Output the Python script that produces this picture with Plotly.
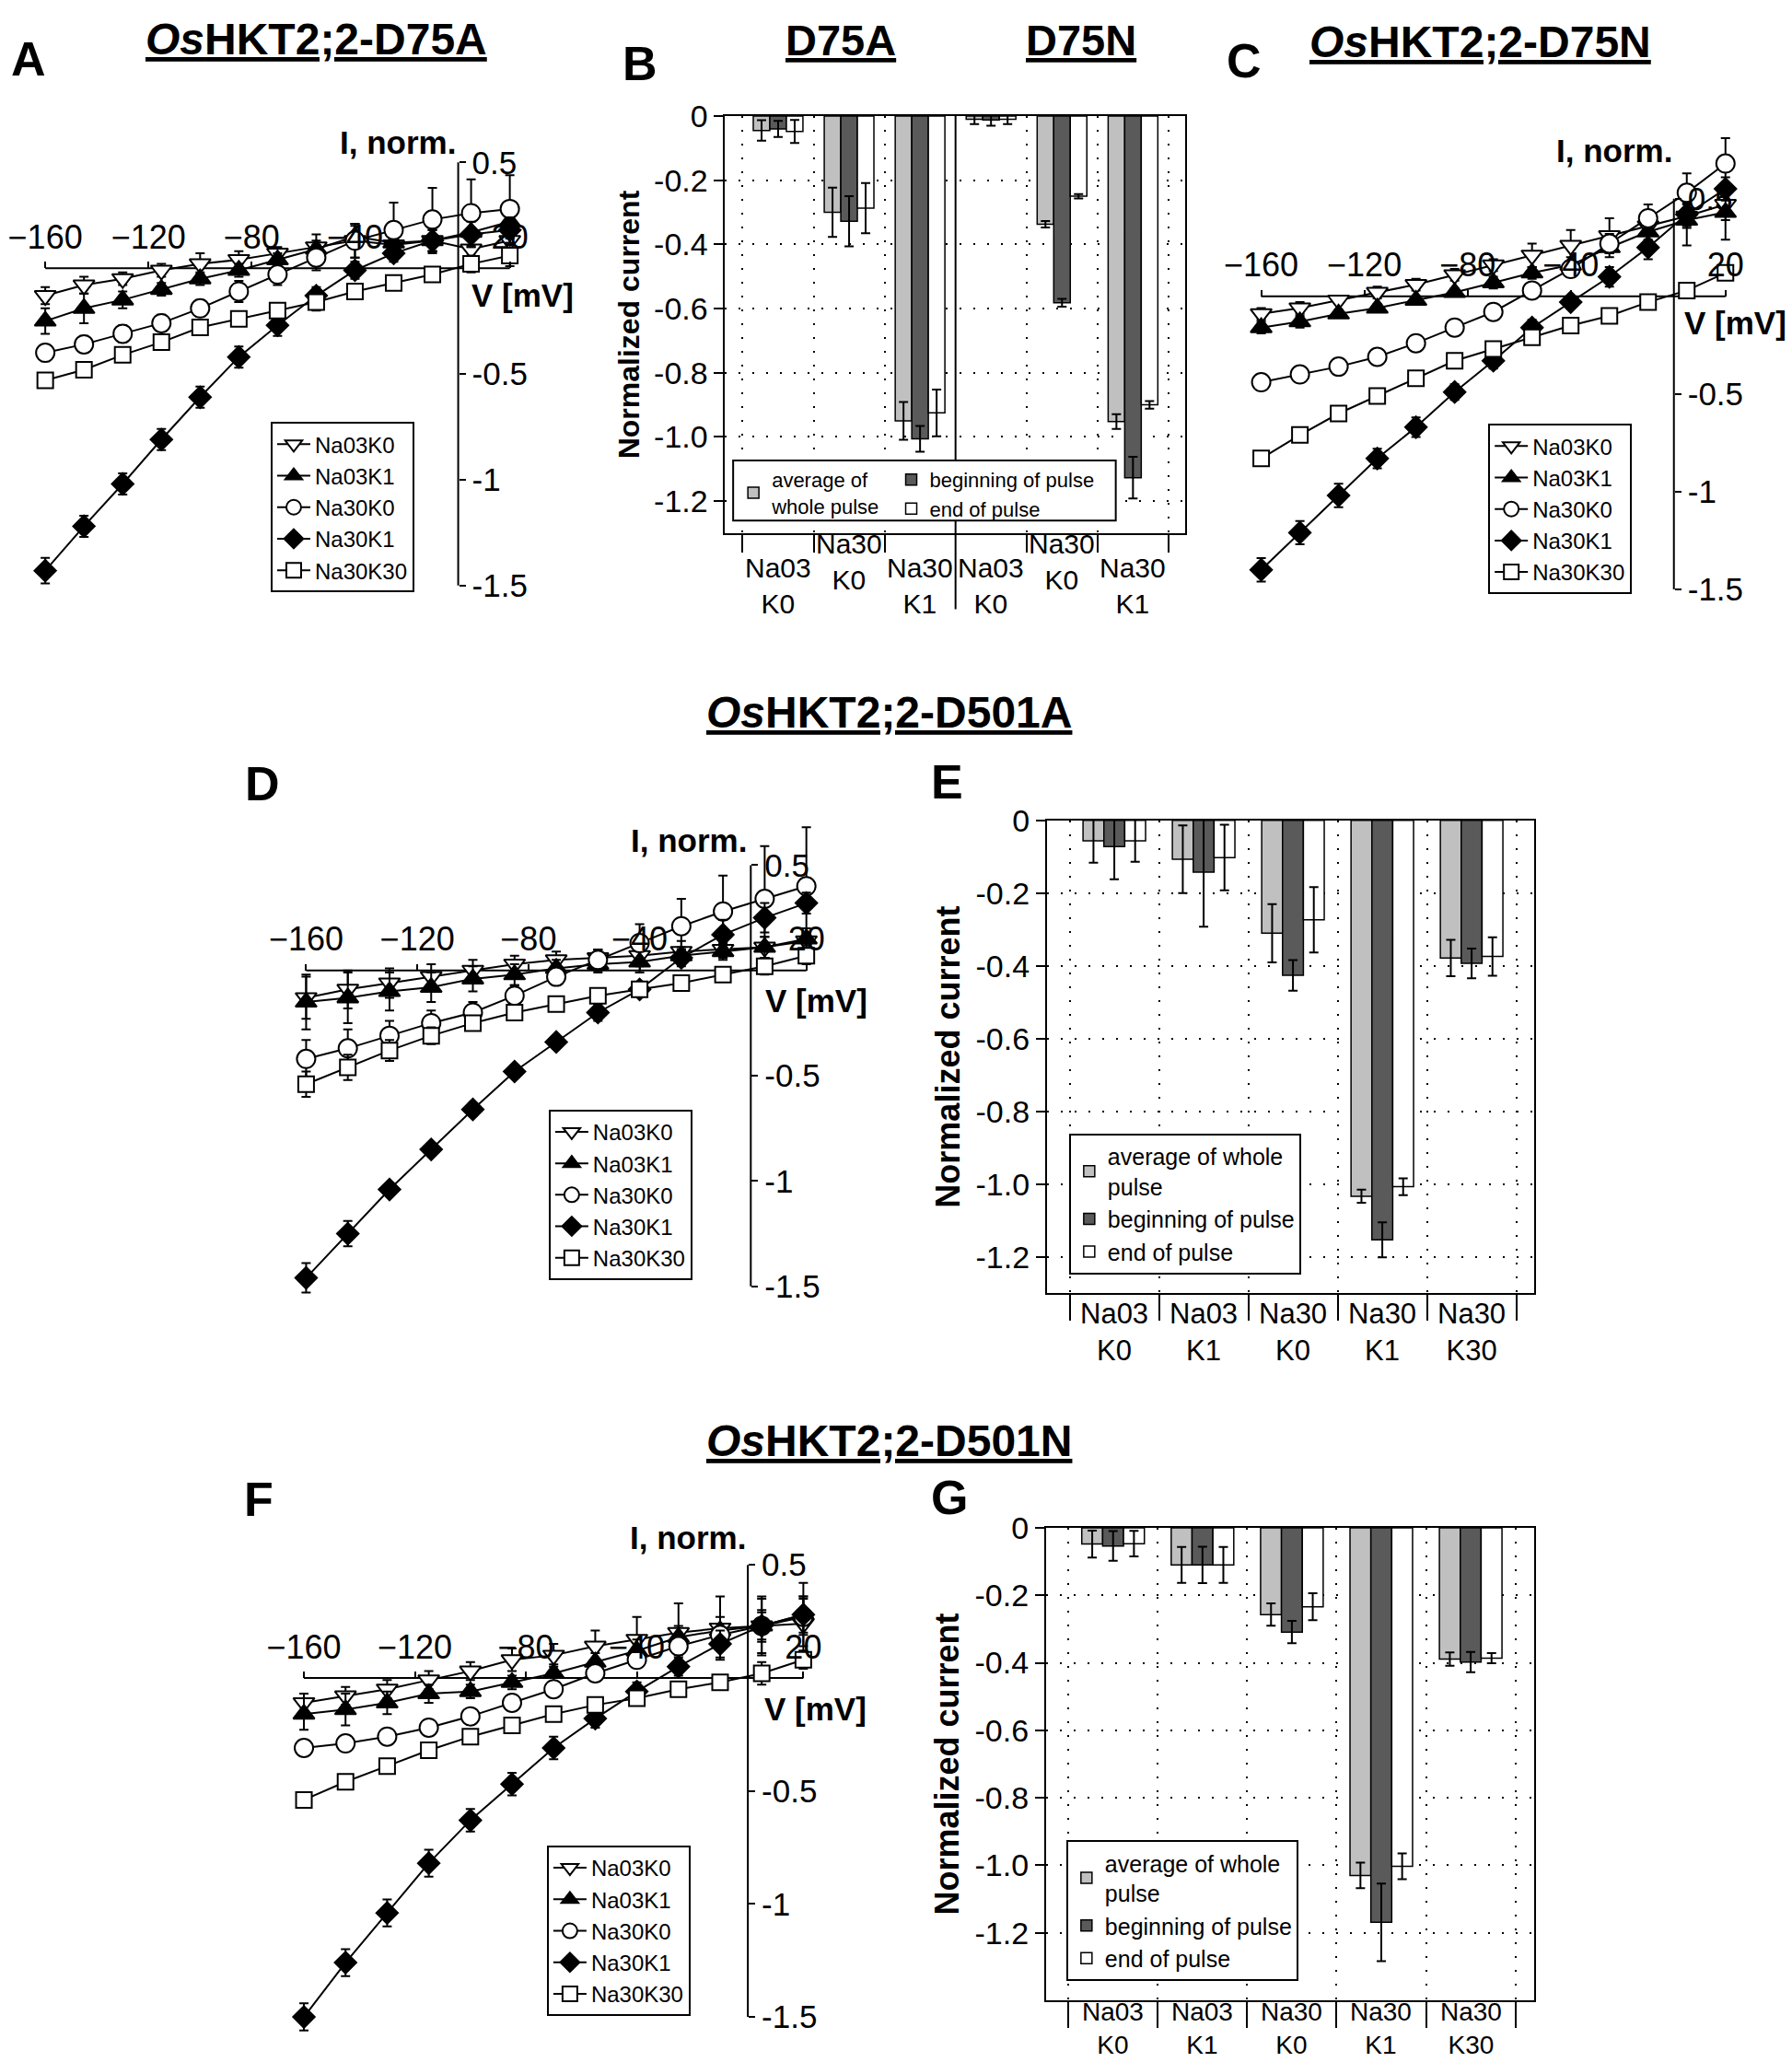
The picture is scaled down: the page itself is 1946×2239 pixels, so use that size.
import plotly.graph_objects as go

W, H = 1946, 2239
FONT = "Liberation Sans, Arial, sans-serif"

# ---------------- data ----------------
voltage_mV = [-160, -145, -130, -115, -100, -85, -70, -55, -40, -25, -10, 5, 20]
iv_series = ["Na03K0", "Na03K1", "Na30K0", "Na30K1", "Na30K30"]
iv_xticks = [-160, -120, -80, -40, 20]
iv_yticks = [0.5, -0.5, -1, -1.5]
iv_yticktext = ["0.5", "-0.5", "-1", "-1.5"]

# Panel A  (OsHKT2;2-D75A)
A_Na03K0 = [-0.13, -0.08, -0.05, -0.01, 0.02, 0.04, 0.07, 0.10, 0.13, 0.11, 0.13, 0.09, 0.13]
A_Na03K1 = [-0.25, -0.19, -0.15, -0.10, -0.05, -0.01, 0.04, 0.09, 0.15, 0.12, 0.13, 0.17, 0.22]
A_Na30K0 = [-0.40, -0.36, -0.31, -0.26, -0.19, -0.11, -0.03, 0.05, 0.13, 0.18, 0.23, 0.26, 0.28]
A_Na30K1 = [-1.43, -1.22, -1.02, -0.81, -0.61, -0.42, -0.27, -0.13, -0.01, 0.07, 0.13, 0.16, 0.18]
A_Na30K30 = [-0.53, -0.48, -0.41, -0.35, -0.28, -0.24, -0.20, -0.16, -0.11, -0.07, -0.03, 0.02, 0.06]
A_err_Na03K0 = [0.04, 0.04, 0.03, 0.03, 0.05, 0.04, 0.03, 0.06, 0.08, 0.05, 0.06, 0.05, 0.10]
A_err_Na03K1 = [0.06, 0.07, 0.04, 0.03, 0.03, 0.03, 0.03, 0.04, 0.05, 0.05, 0.05, 0.06, 0.08]
A_err_Na30K0 = [0.04, 0.04, 0.04, 0.04, 0.04, 0.05, 0.05, 0.06, 0.08, 0.13, 0.15, 0.16, 0.16]
A_err_Na30K1 = [0.06, 0.05, 0.05, 0.05, 0.05, 0.05, 0.05, 0.04, 0.04, 0.04, 0.05, 0.06, 0.06]
A_err_Na30K30 = [0.03, 0.03, 0.03, 0.03, 0.03, 0.03, 0.03, 0.04, 0.03, 0.03, 0.03, 0.04, 0.05]

# Panel C  (OsHKT2;2-D75N)
C_Na03K0 = [-0.09, -0.06, -0.02, 0.02, 0.06, 0.11, 0.16, 0.21, 0.26, 0.31, 0.36, 0.41, 0.47]
C_Na03K1 = [-0.16, -0.13, -0.09, -0.06, -0.02, 0.02, 0.07, 0.12, 0.16, 0.25, 0.33, 0.39, 0.43]
C_Na30K0 = [-0.44, -0.40, -0.36, -0.31, -0.24, -0.16, -0.08, 0.03, 0.14, 0.27, 0.40, 0.53, 0.68]
C_Na30K1 = [-1.40, -1.21, -1.02, -0.83, -0.67, -0.49, -0.33, -0.16, -0.03, 0.10, 0.25, 0.42, 0.55]
C_Na30K30 = [-0.83, -0.71, -0.60, -0.51, -0.42, -0.33, -0.27, -0.21, -0.15, -0.10, -0.03, 0.03, 0.12]
C_err_Na03K0 = [0.03, 0.03, 0.02, 0.03, 0.03, 0.03, 0.03, 0.06, 0.08, 0.09, 0.07, 0.06, 0.08]
C_err_Na03K1 = [0.03, 0.03, 0.02, 0.02, 0.02, 0.02, 0.03, 0.03, 0.04, 0.05, 0.07, 0.13, 0.14]
C_err_Na30K0 = [0.02, 0.02, 0.02, 0.02, 0.02, 0.02, 0.02, 0.03, 0.04, 0.05, 0.07, 0.10, 0.13]
C_err_Na30K1 = [0.06, 0.06, 0.06, 0.05, 0.05, 0.04, 0.04, 0.04, 0.03, 0.05, 0.06, 0.06, 0.06]
C_err_Na30K30 = [0.02, 0.02, 0.02, 0.02, 0.02, 0.02, 0.02, 0.02, 0.02, 0.02, 0.02, 0.02, 0.03]

# Panel D  (OsHKT2;2-D501A)
D_Na03K0 = [-0.13, -0.09, -0.06, -0.03, 0.00, 0.03, 0.05, 0.06, 0.07, 0.09, 0.10, 0.11, 0.14]
D_Na03K1 = [-0.15, -0.13, -0.10, -0.08, -0.04, -0.02, 0.01, 0.03, 0.04, 0.07, 0.09, 0.11, 0.15]
D_Na30K0 = [-0.42, -0.37, -0.31, -0.25, -0.20, -0.12, -0.03, 0.05, 0.13, 0.21, 0.28, 0.34, 0.40]
D_Na30K1 = [-1.46, -1.25, -1.04, -0.85, -0.66, -0.48, -0.34, -0.20, -0.09, 0.06, 0.17, 0.25, 0.32]
D_Na30K30 = [-0.54, -0.46, -0.38, -0.31, -0.25, -0.20, -0.16, -0.12, -0.09, -0.06, -0.02, 0.02, 0.07]
D_err_Na03K0 = [0.10, 0.09, 0.07, 0.06, 0.05, 0.04, 0.04, 0.04, 0.05, 0.05, 0.04, 0.05, 0.04]
D_err_Na03K1 = [0.13, 0.12, 0.09, 0.07, 0.06, 0.05, 0.04, 0.04, 0.05, 0.04, 0.04, 0.05, 0.05]
D_err_Na30K0 = [0.09, 0.09, 0.07, 0.06, 0.05, 0.05, 0.04, 0.05, 0.09, 0.13, 0.17, 0.25, 0.28]
D_err_Na30K1 = [0.07, 0.06, 0.03, 0.03, 0.03, 0.03, 0.03, 0.04, 0.03, 0.04, 0.07, 0.07, 0.05]
D_err_Na30K30 = [0.06, 0.06, 0.05, 0.04, 0.03, 0.03, 0.03, 0.03, 0.03, 0.03, 0.03, 0.04, 0.04]

# Panel F  (OsHKT2;2-D501N)
F_Na03K0 = [-0.11, -0.08, -0.05, -0.01, 0.03, 0.08, 0.10, 0.14, 0.17, 0.20, 0.22, 0.23, 0.24]
F_Na03K1 = [-0.16, -0.14, -0.11, -0.07, -0.06, -0.02, 0.02, 0.07, 0.12, 0.18, 0.21, 0.23, 0.28]
F_Na30K0 = [-0.31, -0.29, -0.26, -0.22, -0.17, -0.11, -0.05, 0.02, 0.08, 0.14, 0.19, 0.23, 0.27]
F_Na30K1 = [-1.50, -1.26, -1.04, -0.82, -0.63, -0.47, -0.31, -0.18, -0.06, 0.05, 0.15, 0.23, 0.28]
F_Na30K30 = [-0.54, -0.46, -0.39, -0.32, -0.26, -0.21, -0.16, -0.12, -0.09, -0.05, -0.02, 0.02, 0.08]
F_err_Na03K0 = [0.04, 0.04, 0.04, 0.04, 0.04, 0.05, 0.05, 0.07, 0.10, 0.13, 0.14, 0.13, 0.12]
F_err_Na03K1 = [0.07, 0.07, 0.05, 0.04, 0.03, 0.03, 0.04, 0.04, 0.05, 0.05, 0.06, 0.12, 0.14]
F_err_Na30K0 = [0.03, 0.02, 0.02, 0.02, 0.02, 0.02, 0.02, 0.02, 0.03, 0.04, 0.05, 0.06, 0.08]
F_err_Na30K1 = [0.06, 0.06, 0.06, 0.06, 0.05, 0.05, 0.05, 0.04, 0.04, 0.04, 0.06, 0.07, 0.08]
F_err_Na30K30 = [0.02, 0.02, 0.02, 0.02, 0.02, 0.02, 0.02, 0.02, 0.02, 0.02, 0.02, 0.05, 0.04]

# Bar charts
bar_series = ["average", "beginning", "end"]

# Panel B (D75A | D75N)
B_groups = ["D75A", "D75N"]
B_categories = ["Na03<br>K0", "Na30<br>K0", "Na30<br>K1", "Na03<br>K0", "Na30<br>K0", "Na30<br>K1"]
B_average = [-0.045, -0.300, -0.950, -0.010, -0.337, -0.952]
B_average_err = [0.032, 0.077, 0.059, 0.015, 0.010, 0.023]
B_beginning = [-0.040, -0.328, -1.006, -0.012, -0.582, -1.127]
B_beginning_err = [0.025, 0.078, 0.040, 0.018, 0.012, 0.065]
B_end = [-0.048, -0.287, -0.925, -0.010, -0.250, -0.900]
B_end_err = [0.036, 0.078, 0.073, 0.015, 0.007, 0.012]

# Panels E and G
EG_categories = ["Na03<br>K0", "Na03<br>K1", "Na30<br>K0", "Na30<br>K1", "Na30<br>K30"]
E_average = [-0.056, -0.107, -0.310, -1.033, -0.378]
E_average_err = [0.060, 0.093, 0.080, 0.018, 0.050]
E_beginning = [-0.072, -0.142, -0.426, -1.153, -0.393]
E_beginning_err = [0.090, 0.150, 0.042, 0.048, 0.041]
E_end = [-0.056, -0.102, -0.273, -1.007, -0.374]
E_end_err = [0.058, 0.090, 0.090, 0.023, 0.053]

G_average = [-0.048, -0.110, -0.257, -1.030, -0.389]
G_average_err = [0.040, 0.053, 0.033, 0.038, 0.020]
G_beginning = [-0.054, -0.110, -0.309, -1.169, -0.398]
G_beginning_err = [0.044, 0.054, 0.033, 0.115, 0.030]
G_end = [-0.047, -0.110, -0.234, -1.003, -0.386]
G_end_err = [0.038, 0.053, 0.040, 0.038, 0.015]

bar_yticks = [0, -0.2, -0.4, -0.6, -0.8, -1.0, -1.2]
bar_yticktext = ["0", "-0.2", "-0.4", "-0.6", "-0.8", "-1.0", "-1.2"]

# ---------------- styles ----------------
iv_style = {
    "Na03K0": dict(symbol="triangle-down", color="white", size=20),
    "Na03K1": dict(symbol="triangle-up", color="black", size=20),
    "Na30K0": dict(symbol="circle", color="white", size=20),
    "Na30K1": dict(symbol="diamond", color="black", size=18),
    "Na30K30": dict(symbol="square", color="white", size=17),
}
bar_color = {"average": "#c0c0c0", "beginning": "#5a5a5a", "end": "#ffffff"}


def px_x(p):
    return p / W


def px_y(p):
    return 1 - p / H


def lin(v, v0, p0, v1, p1):
    return p0 + (v - v0) * (p1 - p0) / (v1 - v0)


fig = go.Figure()
layout = dict(
    width=W, height=H, autosize=False,
    margin=dict(l=0, r=0, t=0, b=0),
    paper_bgcolor="white", plot_bgcolor="rgba(0,0,0,0)",
    font=dict(family=FONT, color="black"),
    barmode="group", bargap=0.3, bargroupgap=0.0,
    showlegend=True,
)
annotations = []
shapes = []


def ax_names(n):
    return ("x" if n == 1 else f"x{n}", "y" if n == 1 else f"y{n}",
            "xaxis" if n == 1 else f"xaxis{n}", "yaxis" if n == 1 else f"yaxis{n}")


def text_ann(text, cx, cy, size, xanchor="center", yanchor="middle"):
    annotations.append(dict(text=text, x=px_x(cx), y=px_y(cy), xref="paper", yref="paper",
                            showarrow=False, xanchor=xanchor, yanchor=yanchor,
                            font=dict(size=size, family=FONT, color="black")))


# ---------------- IV panels ----------------
IV_XR = [-172, 30]
IV_YR = [-1.62, 0.85]


def add_iv(n, cal, values, errors, legend_id, legend_px):
    xa, ya, xk, yk = ax_names(n)
    (xv0, xv1), (xp0, xp1) = cal["xv"], cal["xp"]
    (yv0, yv1), (yp0, yp1) = cal["yv"], cal["yp"]
    xd = sorted([px_x(lin(r, xv0, xp0, xv1, xp1)) for r in IV_XR])
    yd = sorted([px_y(lin(r, yv0, yp0, yv1, yp1)) for r in IV_YR])
    zero_y = px_y(lin(0, yv0, yp0, yv1, yp1))
    zero_x = px_x(lin(0, xv0, xp0, xv1, xp1))
    layout[xk] = dict(domain=xd, range=IV_XR, anchor="free", position=zero_y, side="top",
                      showline=False, showgrid=False, zeroline=False,
                      ticks="outside", ticklen=7, tickwidth=2, tickcolor="black",
                      tickvals=iv_xticks, tickfont=dict(size=36, family=FONT))
    layout[yk] = dict(domain=yd, range=IV_YR, anchor="free", position=zero_x, side="right",
                      showline=False, showgrid=False, zeroline=False,
                      ticks="outside", ticklen=7, tickwidth=2, tickcolor="black",
                      tickvals=iv_yticks, ticktext=iv_yticktext,
                      tickfont=dict(size=35, family=FONT))
    shapes.append(dict(type="line", xref=xa, yref=ya, x0=voltage_mV[0], x1=voltage_mV[-1],
                       y0=0, y1=0, line=dict(color="black", width=2), layer="below"))
    shapes.append(dict(type="line", xref=xa, yref=ya, x0=0, x1=0, y0=iv_yticks[-1],
                       y1=iv_yticks[0], line=dict(color="black", width=2), layer="below"))
    for name in iv_series:
        st = iv_style[name]
        fig.add_trace(go.Scatter(
            x=voltage_mV, y=values[name], name=name, mode="lines+markers",
            xaxis=xa, yaxis=ya, legend=legend_id, cliponaxis=False,
            line=dict(color="black", width=2),
            marker=dict(symbol=st["symbol"], size=st["size"], color=st["color"],
                        line=dict(color="black", width=2)),
            error_y=dict(type="data", array=errors[name], color="black", thickness=2, width=5),
        ))
    layout[legend_id] = dict(x=px_x(legend_px[0]), y=px_y(legend_px[1]), xanchor="left",
                             yanchor="top", bgcolor="white", bordercolor="black",
                             borderwidth=2, font=dict(size=24, family=FONT),
                             tracegroupgap=0, itemwidth=36)


iv_panels = [
    (1, dict(xv=(-160, 20), xp=(42.3, 548.6), yv=(0.5, -1.5), yp=(158.7, 622.0)),
     dict(Na03K0=A_Na03K0, Na03K1=A_Na03K1, Na30K0=A_Na30K0, Na30K1=A_Na30K1, Na30K30=A_Na30K30),
     dict(Na03K0=A_err_Na03K0, Na03K1=A_err_Na03K1, Na30K0=A_err_Na30K0, Na30K1=A_err_Na30K1, Na30K30=A_err_Na30K30),
     "legend", (288, 443)),
    (3, dict(xv=(-160, 20), xp=(1367.5, 1873.5), yv=(0.5, -1.5), yp=(198.4, 626.2)),
     dict(Na03K0=C_Na03K0, Na03K1=C_Na03K1, Na30K0=C_Na30K0, Na30K1=C_Na30K1, Na30K30=C_Na30K30),
     dict(Na03K0=C_err_Na03K0, Na03K1=C_err_Na03K1, Na30K0=C_err_Na30K0, Na30K1=C_err_Na30K1, Na30K30=C_err_Na30K30),
     "legend2", (1615, 445)),
    (4, dict(xv=(-160, 20), xp=(326.6, 871.8), yv=(0.5, -1.5), yp=(928.3, 1389.5)),
     dict(Na03K0=D_Na03K0, Na03K1=D_Na03K1, Na30K0=D_Na30K0, Na30K1=D_Na30K1, Na30K30=D_Na30K30),
     dict(Na03K0=D_err_Na03K0, Na03K1=D_err_Na03K1, Na30K0=D_err_Na30K0, Na30K1=D_err_Na30K1, Na30K30=D_err_Na30K30),
     "legend3", (591, 1196)),
    (6, dict(xv=(-160, 20), xp=(324.2, 868.5), yv=(0.5, -1.5), yp=(1694.6, 2189.6)),
     dict(Na03K0=F_Na03K0, Na03K1=F_Na03K1, Na30K0=F_Na30K0, Na30K1=F_Na30K1, Na30K30=F_Na30K30),
     dict(Na03K0=F_err_Na03K0, Na03K1=F_err_Na03K1, Na30K0=F_err_Na30K0, Na30K1=F_err_Na30K1, Na30K30=F_err_Na30K30),
     "legend4", (589, 2002)),
]
for args in iv_panels:
    add_iv(*args)

# IV axis labels
for cx, cy in [(427, 137), (1752, 146), (744, 901), (743, 1665)]:
    text_ann("<b>I, norm.</b>", cx, cy, 35)
for cx, cy in [(563, 304), (1884, 334), (883, 1077), (882, 1852)]:
    text_ann("<b>V [mV]</b>", cx, cy, 35)

# ---------------- bar panels ----------------
bar_names_EG = {"average": "average of whole<br>pulse", "beginning": "beginning of pulse",
                "end": "end of pulse"}
bar_names_B = {"average": "average of<br>whole pulse", "beginning": "beginning of pulse",
               "end": "end of pulse"}

DOT = "2px,13px"


def bar_yaxis(domain_px, yr, title_size):
    return dict(domain=sorted([px_y(domain_px[0]), px_y(domain_px[1])]), range=yr,
                showline=True, mirror=True, linecolor="black", linewidth=2,
                ticks="outside", ticklen=10, tickwidth=2, tickcolor="black",
                tickvals=bar_yticks, ticktext=bar_yticktext, tickfont=dict(size=34, family=FONT),
                showgrid=True, gridcolor="black", griddash=DOT, gridwidth=1.5, zeroline=False,
                title=dict(text="<b>Normalized current</b>", font=dict(size=title_size, family=FONT),
                           standoff=6))


def category_labels(labels, xa, y_px, size, yanchor="middle"):
    # category names under the bars, placed between the boundary ticks
    for i, lab in enumerate(labels):
        annotations.append(dict(text=lab, x=i, xref=xa, y=px_y(y_px[i]), yref="paper",
                                showarrow=False, xanchor="center", yanchor=yanchor,
                                font=dict(size=size, family=FONT)))


# Panel B
xa, ya, xk, yk = ax_names(2)
B_x = list(range(len(B_categories)))
B_bounds = [-0.5, 0.5, 1.5, 3.5, 4.5, 5.5]
layout[xk] = dict(domain=[px_x(783.3), px_x(1285)], range=[-0.746, 5.74], anchor=ya,
                  showline=True, mirror=True, linecolor="black", linewidth=2,
                  tickvals=B_bounds, ticktext=[""] * len(B_bounds), ticks="outside", ticklen=19,
                  tickwidth=2, tickcolor="black",
                  showgrid=True, gridcolor="black", griddash=DOT, gridwidth=1.5, zeroline=False)
layout[yk] = bar_yaxis((107.9, 564.8), [-1.3, 0], 32)
layout[yk]["anchor"] = xa
B_vals = {"average": (B_average, B_average_err), "beginning": (B_beginning, B_beginning_err),
          "end": (B_end, B_end_err)}
for s in bar_series:
    v, e = B_vals[s]
    fig.add_trace(go.Bar(x=B_x, y=v, name=bar_names_B[s], xaxis=xa, yaxis=ya,
                         legend="legend5" if s == "average" else "legend6",
                         marker=dict(color=bar_color[s], line=dict(color="black", width=1.5)),
                         error_y=dict(type="data", array=e, color="black", thickness=2, width=5)))
category_labels(B_categories, xa, [622 if i % 3 != 1 else 596 for i in B_x], 30)
# divider between the two mutants
shapes.append(dict(type="line", xref=xa, yref="paper", x0=2.5, x1=2.5,
                   y0=px_y(107.9), y1=px_y(648), line=dict(color="black", width=2)))
# legend frame for B
shapes.append(dict(type="rect", xref="paper", yref="paper", x0=px_x(792), x1=px_x(1209),
                   y0=px_y(485), y1=px_y(551), fillcolor="white",
                   line=dict(color="black", width=2), layer="above"))
layout["legend5"] = dict(x=px_x(794), y=px_y(485), xanchor="left", yanchor="top",
                         bgcolor="rgba(0,0,0,0)", borderwidth=0, font=dict(size=22, family=FONT),
                         tracegroupgap=0, itemwidth=30)
layout["legend6"] = dict(x=px_x(966), y=px_y(485), xanchor="left", yanchor="top",
                         bgcolor="rgba(0,0,0,0)", borderwidth=0, font=dict(size=22, family=FONT),
                         tracegroupgap=0, itemwidth=30)


def add_eg(n, domx_px, domy_px, xr, yr, vals, legend_id, legend_px, label_y, label_size,
           label_anchor):
    xa, ya, xk, yk = ax_names(n)
    layout[xk] = dict(domain=[px_x(domx_px[0]), px_x(domx_px[1])], range=xr, anchor=ya,
                      type="category", categoryorder="array", categoryarray=EG_categories,
                      tickson="boundaries", showticklabels=False,
                      showline=True, mirror=True, linecolor="black",
                      linewidth=2, ticks="outside", ticklen=28, tickwidth=2, tickcolor="black",
                      showgrid=True, gridcolor="black", griddash=DOT, gridwidth=1.5,
                      zeroline=False)
    layout[yk] = bar_yaxis(domy_px, yr, 36)
    layout[yk]["anchor"] = xa
    for s in bar_series:
        v, e = vals[s]
        fig.add_trace(go.Bar(x=EG_categories, y=v, name=bar_names_EG[s], xaxis=xa, yaxis=ya,
                             legend=legend_id,
                             marker=dict(color=bar_color[s], line=dict(color="black", width=1.5)),
                             error_y=dict(type="data", array=e, color="black", thickness=2,
                                          width=5)))
    layout[legend_id] = dict(x=px_x(legend_px[0]), y=px_y(legend_px[1]), xanchor="left",
                             yanchor="top", bgcolor="white", bordercolor="black",
                             borderwidth=2, font=dict(size=25, family=FONT),
                             tracegroupgap=0, itemwidth=30)
    category_labels(EG_categories, xa, [label_y] * len(EG_categories), label_size, label_anchor)


add_eg(5, (1134, 1665), (879.3, 1397.2), [-0.754, 4.70], [-1.3, 0],
       {"average": (E_average, E_average_err), "beginning": (E_beginning, E_beginning_err),
        "end": (E_end, E_end_err)}, "legend7", (1158, 1222), 1440, 31, "middle")
add_eg(7, (1133, 1665), (1654, 2171.4), [-0.75, 4.71], [-1.4, 0],
       {"average": (G_average, G_average_err), "beginning": (G_beginning, G_beginning_err),
        "end": (G_end, G_end_err)}, "legend8", (1155, 1996), 2238, 28, "bottom")

# ---------------- titles and panel letters ----------------
text_ann("<b><u><i>Os</i>HKT2;2-D75A</u></b>", 338, 24, 48)
text_ann("<b><u><i>Os</i>HKT2;2-D75N</u></b>", 1606, 27, 48)
text_ann("<b><u><i>Os</i>HKT2;2-D501A</u></b>", 962, 761, 48)
text_ann("<b><u><i>Os</i>HKT2;2-D501N</u></b>", 962, 1559, 48)
text_ann(f"<b><u>{B_groups[0]}</u></b>", 909, 25, 47)
text_ann(f"<b><u>{B_groups[1]}</u></b>", 1171, 25, 47)

for letter, cx, cy in [("A", 24, 45), ("B", 690, 50), ("C", 1349, 47), ("D", 279, 839),
                       ("E", 1025, 837), ("F", 275, 1623), ("G", 1028, 1621)]:
    text_ann(f"<b>{letter}</b>", cx, cy, 52)

layout["annotations"] = annotations
layout["shapes"] = shapes
fig.update_layout(**layout)

fig.write_html("out.html", config={"displayModeBar": False},
               post_script="document.body.style.margin='0';")
